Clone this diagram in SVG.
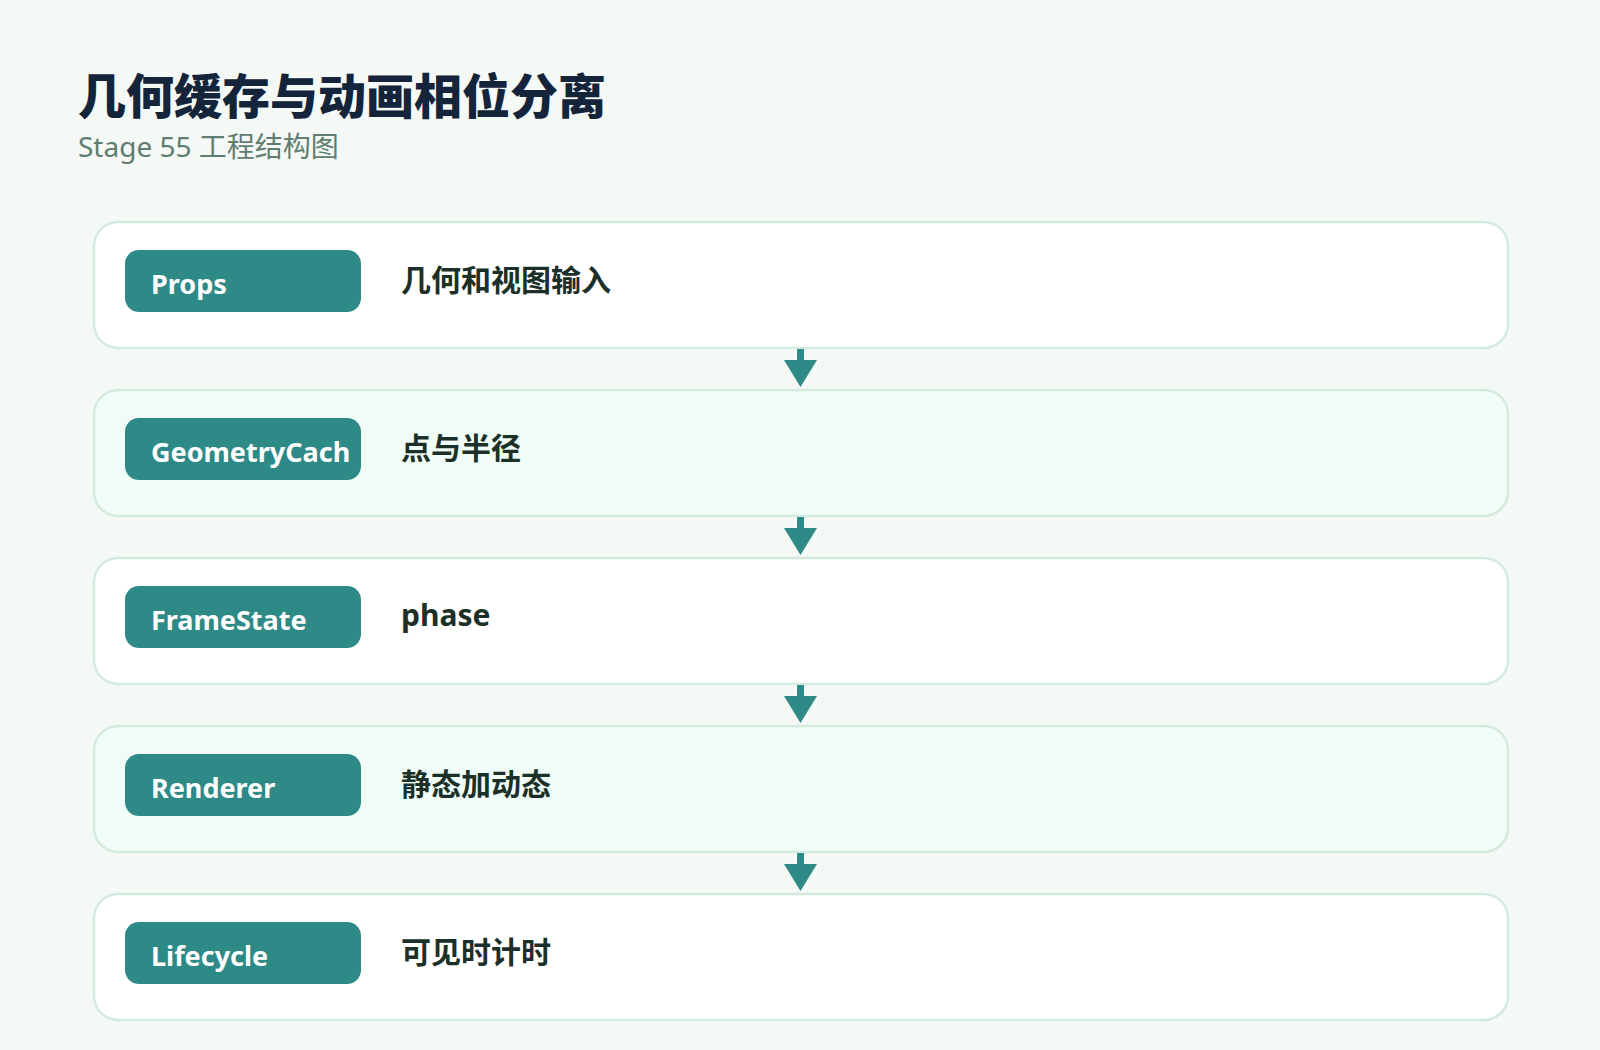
<svg xmlns="http://www.w3.org/2000/svg" width="1600" height="1050" viewBox="0 0 1600 1050">
<style>
.bg{fill:#f4f9f6}
.box{stroke:#d5eadf;stroke-width:2.5}
.odd{fill:#ffffff}
.even{fill:#f0fdf6}
.pill{fill:#2d8a87}
.ptxt{font-family:"Noto Sans","Open Sans","Noto Sans CJK SC",sans-serif;font-weight:700;font-size:27px;fill:#ffffff}
.dtxt{font-family:"Noto Sans","Noto Sans CJK SC",sans-serif;font-weight:700;font-size:30px;fill:#1b3028}
.title{font-family:"Noto Sans CJK SC",sans-serif;font-weight:900;font-size:48px;fill:#14243a}
.sub{font-family:"Noto Sans","Noto Sans CJK SC",sans-serif;font-size:28px;fill:#5f7d70}
.shaft{stroke:#2d8a87;stroke-width:7}
.head{fill:#2d8a87}
</style>
<rect class="bg" x="0" y="0" width="1600" height="1050"/>
<g id="header">
<text class="title" x="78" y="114">几何缓存与动画相位分离</text>
<text class="sub" x="78" y="157">Stage 55 工程结构图</text>
</g>
<g id="node-props">
<rect class="box odd" x="94" y="222" width="1414" height="126" rx="24"/>
<rect class="pill" x="125" y="250" width="236" height="62" rx="14"/>
<text class="ptxt" x="151" y="294">Props</text>
<text class="dtxt" x="401" y="291">几何和视图输入</text>
</g>
<g id="node-geometrycache">
<rect class="box even" x="94" y="390" width="1414" height="126" rx="24"/>
<rect class="pill" x="125" y="418" width="236" height="62" rx="14"/>
<text class="ptxt" x="151" y="462">GeometryCach</text>
<text class="dtxt" x="401" y="459">点与半径</text>
</g>
<g id="node-framestate">
<rect class="box odd" x="94" y="558" width="1414" height="126" rx="24"/>
<rect class="pill" x="125" y="586" width="236" height="62" rx="14"/>
<text class="ptxt" x="151" y="630">FrameState</text>
<text class="dtxt" x="401" y="626">phase</text>
</g>
<g id="node-renderer">
<rect class="box even" x="94" y="726" width="1414" height="126" rx="24"/>
<rect class="pill" x="125" y="754" width="236" height="62" rx="14"/>
<text class="ptxt" x="151" y="798">Renderer</text>
<text class="dtxt" x="401" y="795">静态加动态</text>
</g>
<g id="node-lifecycle">
<rect class="box odd" x="94" y="894" width="1414" height="126" rx="24"/>
<rect class="pill" x="125" y="922" width="236" height="62" rx="14"/>
<text class="ptxt" x="151" y="966">Lifecycle</text>
<text class="dtxt" x="401" y="963">可见时计时</text>
</g>
<g id="connectors">
<line class="shaft" x1="800.5" y1="349" x2="800.5" y2="362"/>
<polygon class="head" points="784,360 817,360 800.5,387"/>
<line class="shaft" x1="800.5" y1="517" x2="800.5" y2="530"/>
<polygon class="head" points="784,528 817,528 800.5,555"/>
<line class="shaft" x1="800.5" y1="685" x2="800.5" y2="698"/>
<polygon class="head" points="784,696 817,696 800.5,723"/>
<line class="shaft" x1="800.5" y1="853" x2="800.5" y2="866"/>
<polygon class="head" points="784,864 817,864 800.5,891"/>
</g>
</svg>
